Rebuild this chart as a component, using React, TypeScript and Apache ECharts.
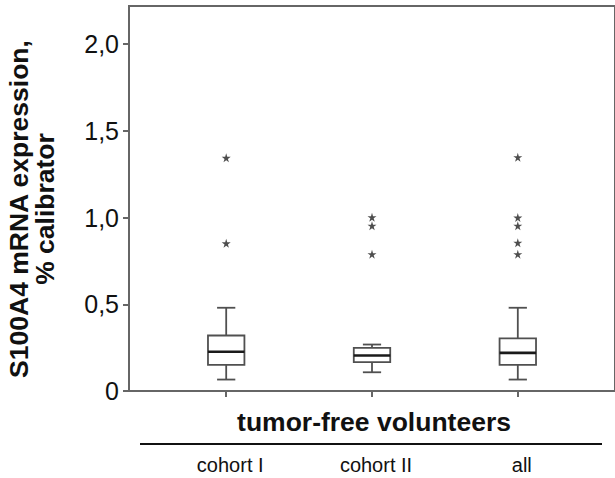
import React, { useEffect, useRef } from "react";
import * as echarts from "echarts";

const categories = ["cohort I", "cohort II", "all"];
const positions = [1, 2, 3];
const boxMin = [0.066, 0.108, 0.066];
const boxQ1 = [0.151, 0.166, 0.151];
const boxMedian = [0.226, 0.205, 0.22];
const boxQ3 = [0.32, 0.249, 0.303];
const boxMax = [0.48, 0.268, 0.48];

const outlierGroup = [0, 0, 1, 1, 1, 2, 2, 2, 2, 2];
const outlierValue = [1.345, 0.852, 1.002, 0.953, 0.789, 1.348, 1.0, 0.953, 0.855, 0.789];

const yTicks = [0, 0.5, 1.0, 1.5, 2.0];

const FONT = "'Liberation Sans', Arial, sans-serif";
const STAR =
  "path://M50,0 L61,35 L98,35 L68,57 L79,91 L50,70 L21,91 L32,57 L2,35 L39,35 Z";

export default function App() {
  const ref = useRef<HTMLDivElement>(null);

  useEffect(() => {
    if (!ref.current) return;
    const chart = echarts.init(ref.current, undefined, { renderer: "svg" });

    const boxData = positions.map((p, i) => [
      p,
      boxMin[i],
      boxQ1[i],
      boxMedian[i],
      boxQ3[i],
      boxMax[i],
    ]);
    const outlierData = outlierGroup.map((g, i) => [positions[g], outlierValue[i]]);

    const stroke = "#505050";

    chart.setOption({
      animation: false,
      backgroundColor: "#fff",
      textStyle: { fontFamily: FONT },
      grid: {
        left: 129,
        top: 6,
        right: -3,
        bottom: 87,
        show: true,
        borderColor: "#666",
        borderWidth: 2,
        containLabel: false,
      },
      xAxis: {
        type: "value",
        min: 1 / 3,
        max: 11 / 3,
        splitLine: { show: false },
        axisLine: { show: true, lineStyle: { color: "#666", width: 2 } },
        axisTick: {
          show: true,
          customValues: positions,
          length: 6,
          lineStyle: { color: "#666", width: 2 },
        },
        axisLabel: {
          customValues: positions,
          formatter: (v: number) => {
            const i = positions.indexOf(Math.round(v));
            return i >= 0 ? categories[i] : "";
          },
          margin: 64,
          fontSize: 20,
          color: "#111",
          fontFamily: FONT,
          padding: [0, 0, 0, 8],
        },
      },
      yAxis: {
        type: "value",
        min: 0,
        max: 2.22,
        splitLine: { show: false },
        axisLine: { show: true, lineStyle: { color: "#666", width: 2 } },
        axisTick: {
          show: true,
          customValues: yTicks,
          length: 6,
          lineStyle: { color: "#666", width: 2 },
        },
        axisLabel: {
          customValues: yTicks,
          formatter: (v: number) => (v === 0 ? "0" : v.toFixed(1).replace(".", ",")),
          margin: 10,
          fontSize: 25,
          color: "#111",
          fontFamily: FONT,
        },
      },
      graphic: [
        {
          type: "text",
          x: 32,
          y: 209,
          rotation: Math.PI / 2,
          style: {
            text: "S100A4 mRNA expression,\n% calibrator",
            fontSize: 26.5,
            fontWeight: "bold",
            fontFamily: FONT,
            lineHeight: 26,
            fill: "#111",
            align: "center",
            verticalAlign: "middle",
          },
        },
        {
          type: "text",
          x: 374,
          y: 422,
          style: {
            text: "tumor-free volunteers",
            fontSize: 26.5,
            fontWeight: "bold",
            fontFamily: FONT,
            fill: "#111",
            align: "center",
            verticalAlign: "middle",
          },
        },
        {
          type: "line",
          shape: { x1: 140, y1: 444, x2: 602, y2: 444 },
          style: { stroke: "#111", lineWidth: 2 },
        },
      ],
      series: [
        {
          type: "custom",
          data: boxData,
          encode: { x: 0, y: [1, 2, 3, 4, 5] },
          renderItem: (params: any, api: any) => {
            const x = api.value(0);
            const vMin = api.value(1);
            const vQ1 = api.value(2);
            const vMed = api.value(3);
            const vQ3 = api.value(4);
            const vMax = api.value(5);
            const cx = api.coord([x, vMed])[0];
            const yMin = api.coord([x, vMin])[1];
            const yQ1 = api.coord([x, vQ1])[1];
            const yMed = api.coord([x, vMed])[1];
            const yQ3 = api.coord([x, vQ3])[1];
            const yMax = api.coord([x, vMax])[1];
            const halfW = api.size([0.25, 0])[0] / 2;
            const capHalf = halfW / 2;
            const ls = { stroke, lineWidth: 1.8 };
            return {
              type: "group",
              children: [
                { type: "line", shape: { x1: cx, y1: yMax, x2: cx, y2: yQ3 }, style: ls },
                { type: "line", shape: { x1: cx, y1: yQ1, x2: cx, y2: yMin }, style: ls },
                { type: "line", shape: { x1: cx - capHalf, y1: yMax, x2: cx + capHalf, y2: yMax }, style: ls },
                { type: "line", shape: { x1: cx - capHalf, y1: yMin, x2: cx + capHalf, y2: yMin }, style: ls },
                {
                  type: "rect",
                  shape: { x: cx - halfW, y: yQ3, width: 2 * halfW, height: yQ1 - yQ3 },
                  style: { fill: "#fff", stroke, lineWidth: 1.8 },
                },
                {
                  type: "line",
                  shape: { x1: cx - halfW, y1: yMed, x2: cx + halfW, y2: yMed },
                  style: { stroke: "#1a1a1a", lineWidth: 2.6 },
                },
              ],
            };
          },
          z: 3,
        },
        {
          type: "scatter",
          data: outlierData,
          symbol: STAR,
          symbolSize: 9,
          itemStyle: { color: "#222" },
          z: 4,
        },
      ],
    });

    return () => chart.dispose();
  }, []);

  return (
    <div
      ref={ref}
      style={{ position: "fixed", left: 0, top: 0, width: 615, height: 478 }}
    />
  );
}
